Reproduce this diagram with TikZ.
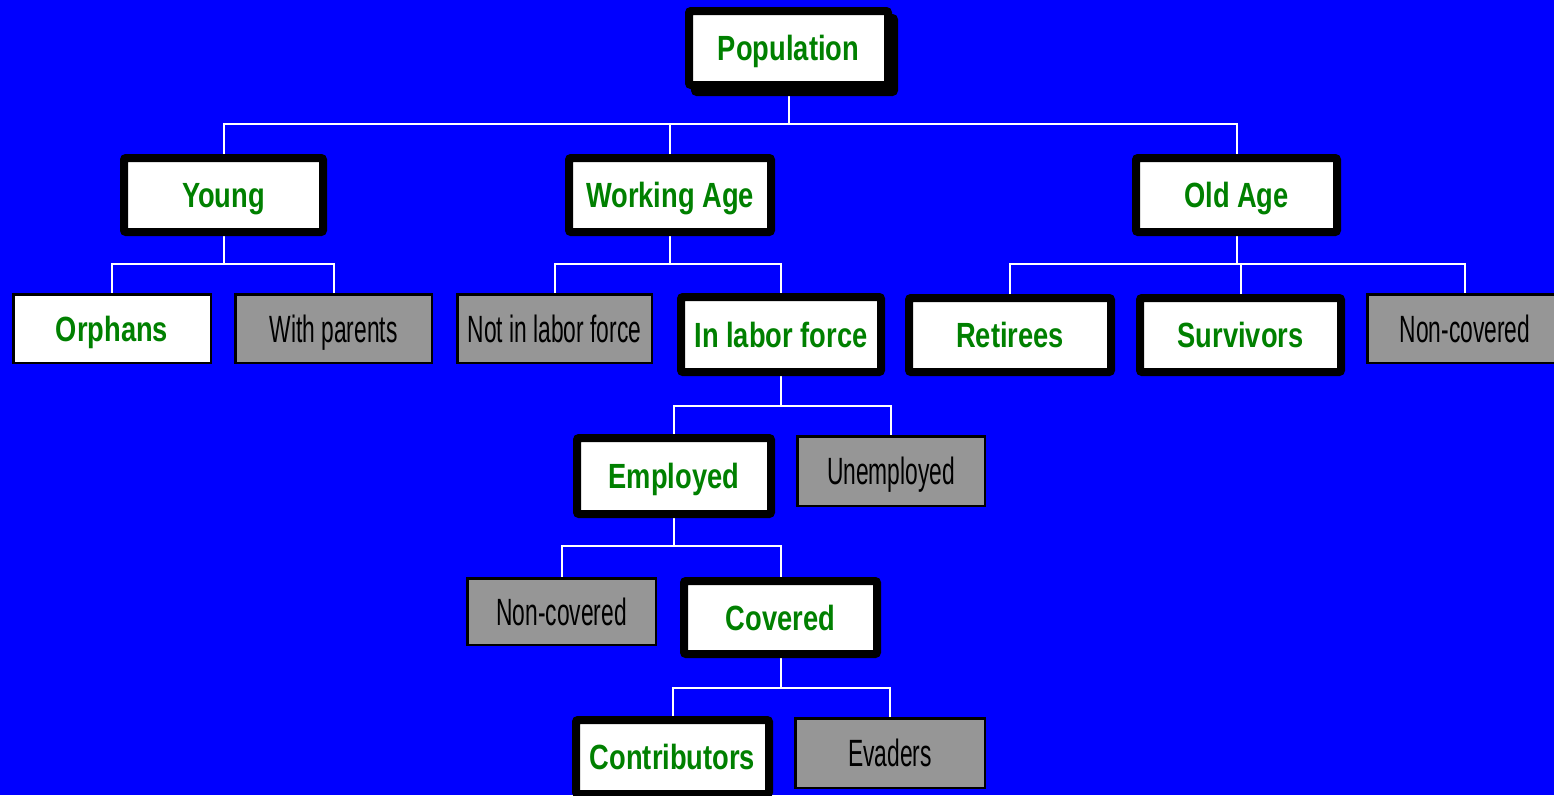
\documentclass[tikz,border=0pt]{standalone}
\usepackage{fontspec}
\usetikzlibrary{backgrounds,shadows}
\definecolor{bg}{HTML}{0000FF}
\definecolor{leafgreen}{HTML}{008000}
\definecolor{boxgray}{HTML}{969696}
\newfontfamily\boldnarrow[FakeStretch=0.78]{Liberation Sans}
\newfontfamily\thinnarrow[FakeStretch=0.6]{Liberation Sans}

\tikzset{
  sz/.style 2 args={minimum width=#1, minimum height=#2},
  keybox/.style={draw=black, fill=white, line width=8pt, rounded corners=2pt,
    inner sep=0pt, text=leafgreen,
    font=\boldnarrow\bfseries\fontsize{35}{40}\selectfont,
    text height=25pt, text depth=0pt},
  sidebox/.style={draw=black, fill=boxgray, line width=2.5pt, inner sep=0pt,
    text=black, font=\thinnarrow\fontsize{38}{44}\selectfont,
    text height=27pt, text depth=0pt},
  openbox/.style={draw=black, fill=white, line width=2.5pt, inner sep=0pt,
    text=leafgreen, font=\boldnarrow\bfseries\fontsize{35}{40}\selectfont,
    text height=25pt, text depth=0pt},
  wire/.style={draw=white, line width=2pt}
}

\begin{document}
\begin{tikzpicture}[x=1pt,y=-1pt]
\clip (0,0) rectangle (1554,795);

% root
\node[keybox, sz={199}{74},
  general shadow={fill=black, draw=black, line width=8pt, shadow xshift=6pt, shadow yshift=-7pt}]
  (pop) at (788.5,48) {Population};

% age groups
\node[keybox, sz={199}{74}] (young) at (223.5,195) {Young};
\node[keybox, sz={202}{74}] (work)  at (670,195)   {Working Age};
\node[keybox, sz={201}{74}] (old)   at (1236.5,195) {Old Age};

% children of the young
\node[openbox, sz={197.5}{68.5}] (orph)  at (112,328.5)   {Orphans};
\node[sidebox, sz={196.5}{68.5}] (withp) at (333.5,328.5) {With parents};

% working age split
\node[sidebox, sz={194.5}{68.5}] (notlf) at (554.5,328.5) {Not in labor force};
\node[keybox, sz={200}{75}]      (inlf)  at (781,334.5)   {In labor force};

% old age split
\node[keybox, sz={202}{74}]      (ret)   at (1010,335)    {Retirees};
\node[keybox, sz={201}{74}]      (surv)  at (1240.5,335)  {Survivors};
\node[sidebox, sz={195.5}{68.5}] (ncold) at (1465,328.5)  {Non-covered};

% labor force split
\node[keybox, sz={194}{76}]      (emp)   at (674,476)     {Employed};
\node[sidebox, sz={187.5}{69.5}] (unemp) at (891,471)     {Unemployed};

% employed split
\node[sidebox, sz={188.5}{66.5}] (ncemp) at (561.5,611.5) {Non-covered};
\node[keybox, sz={193}{73}]      (cov)   at (780.5,617.5) {Covered};

% covered split
\node[keybox, sz={193}{74}]      (contr) at (672.5,757)   {Contributors};
\node[sidebox, sz={189.5}{69.5}] (evad)  at (890,753)     {Evaders};

\begin{scope}[on background layer]
  \fill[bg] (0,0) rectangle (1554,795);
  \coordinate (b1) at (0,124);
  \coordinate (b2) at (0,264);
  \coordinate (b3) at (0,406);
  \coordinate (b4) at (0,546);
  \coordinate (b5) at (0,688);

  \draw[wire] (pop.south) -- (pop.south |- b1);
  \draw[wire] (young.north) |- (b1 -| old.north) -- (old.north);
  \draw[wire] (work.north) -- (work.north |- b1);

  \draw[wire] (young.south) -- (young.south |- b2);
  \draw[wire] (orph.north) |- (b2 -| withp.north) -- (withp.north);

  \draw[wire] (work.south) -- (work.south |- b2);
  \draw[wire] (notlf.north) |- (b2 -| inlf.north) -- (inlf.north);

  \draw[wire] (old.south) -- (old.south |- b2);
  \draw[wire] (ret.north) |- (b2 -| ncold.north) -- (ncold.north);
  \draw[wire] (surv.north) -- (surv.north |- b2);

  \draw[wire] (inlf.south) -- (inlf.south |- b3);
  \draw[wire] (emp.north) |- (b3 -| unemp.north) -- (unemp.north);

  \draw[wire] (emp.south) -- (emp.south |- b4);
  \draw[wire] (ncemp.north) |- (b4 -| cov.north) -- (cov.north);

  \draw[wire] (cov.south) -- (cov.south |- b5);
  \draw[wire] (contr.north) |- (b5 -| evad.north) -- (evad.north);
\end{scope}
\end{tikzpicture}
\end{document}
